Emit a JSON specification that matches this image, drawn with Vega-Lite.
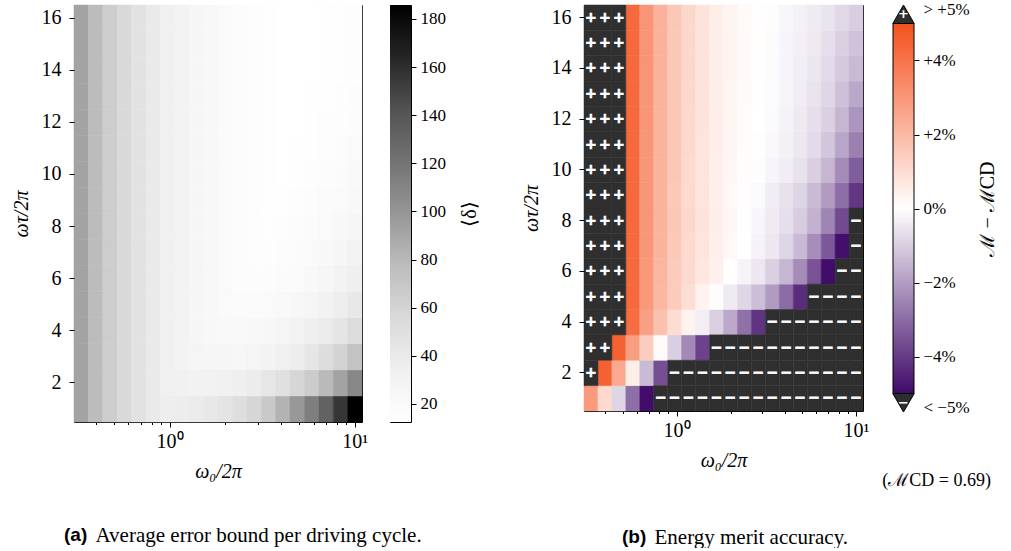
{
"$schema": "https://vega.github.io/schema/vega-lite/v6.json",
"background": "white",
"padding": {"left": 10, "top": 0, "right": 0, "bottom": 0},
"config": {
  "view": {"stroke": "black", "strokeWidth": 1},
  "font": "Liberation Serif",
  "title": {"color": "black", "font": "Liberation Serif", "fontWeight": "normal", "fontSize": 21},
  "axis": {"domain": false, "grid": false, "tickColor": "black", "tickWidth": 1, "tickSize": 5, "labelFont": "Liberation Serif", "labelFontSize": 20, "labelColor": "black", "labelPadding": 6, "titleFont": "Liberation Serif", "titleFontSize": 20, "titleFontWeight": "normal", "titleColor": "black"}
},
"datasets": {
  "cols": [
    {"c":1,"lo":0.3048,"hi":0.3646,"mid":0.3333},{"c":2,"lo":0.3646,"hi":0.4360,"mid":0.3988},{"c":3,"lo":0.4360,"hi":0.5215,"mid":0.4770},{"c":4,"lo":0.5215,"hi":0.6237,"mid":0.5704},{"c":5,"lo":0.6237,"hi":0.7460,"mid":0.6823},
    {"c":6,"lo":0.7460,"hi":0.8923,"mid":0.8160},{"c":7,"lo":0.8923,"hi":1.0671,"mid":0.9757},{"c":8,"lo":1.0671,"hi":1.2763,"mid":1.1670},{"c":9,"lo":1.2763,"hi":1.5266,"mid":1.3957},{"c":10,"lo":1.5266,"hi":1.8258,"mid":1.6693},
    {"c":11,"lo":1.8258,"hi":2.1838,"mid":1.9965},{"c":12,"lo":2.1838,"hi":2.6119,"mid":2.3879},{"c":13,"lo":2.6119,"hi":3.1239,"mid":2.8560},{"c":14,"lo":3.1239,"hi":3.7363,"mid":3.4159},{"c":15,"lo":3.7363,"hi":4.4688,"mid":4.0855},
    {"c":16,"lo":4.4688,"hi":5.3448,"mid":4.8865},{"c":17,"lo":5.3448,"hi":6.3926,"mid":5.8443},{"c":18,"lo":6.3926,"hi":7.6459,"mid":6.9900},{"c":19,"lo":7.6459,"hi":9.1450,"mid":8.3603},{"c":20,"lo":9.1450,"hi":10.937,"mid":10.0}
  ],
  "bar1": [{"lo": 12.5, "hi": 185.8}],
  "bar2": [{"lo": -5, "hi": 5}],
  "tri": [{"t": 5.25, "s": "+"}, {"t": -5.25, "s": "−"}],
  "cells": [
{"c":1,"y":1,"g":92,"m":2.9},{"c":2,"y":1,"g":78,"m":1.1},{"c":3,"y":1,"g":65,"m":-0.85},{"c":4,"y":1,"g":56,"m":-2.95},{"c":5,"y":1,"g":47,"m":-4.95},{"c":6,"y":1,"g":40,"m":-6},{"c":7,"y":1,"g":36,"m":-6},{"c":8,"y":1,"g":37,"m":-6},{"c":9,"y":1,"g":39,"m":-6},{"c":10,"y":1,"g":42,"m":-6},{"c":11,"y":1,"g":45,"m":-6},{"c":12,"y":1,"g":51,"m":-6},{"c":13,"y":1,"g":58,"m":-6},{"c":14,"y":1,"g":68,"m":-6},{"c":15,"y":1,"g":83,"m":-6},{"c":16,"y":1,"g":98,"m":-6},{"c":17,"y":1,"g":114,"m":-6},{"c":18,"y":1,"g":132,"m":-6},{"c":19,"y":1,"g":156,"m":-6},{"c":20,"y":1,"g":185.8,"m":-6},
{"c":1,"y":2,"g":92,"m":6},{"c":2,"y":2,"g":78,"m":4.55},{"c":3,"y":2,"g":65,"m":2.5},{"c":4,"y":2,"g":56,"m":0.5},{"c":5,"y":2,"g":47,"m":-1.4},{"c":6,"y":2,"g":40,"m":-3.6},{"c":7,"y":2,"g":34,"m":-6},{"c":8,"y":2,"g":32.7,"m":-6},{"c":9,"y":2,"g":31,"m":-6},{"c":10,"y":2,"g":31,"m":-6},{"c":11,"y":2,"g":33,"m":-6},{"c":12,"y":2,"g":35,"m":-6},{"c":13,"y":2,"g":38,"m":-6},{"c":14,"y":2,"g":44,"m":-6},{"c":15,"y":2,"g":49,"m":-6},{"c":16,"y":2,"g":58,"m":-6},{"c":17,"y":2,"g":67,"m":-6},{"c":18,"y":2,"g":79,"m":-6},{"c":19,"y":2,"g":92,"m":-6},{"c":20,"y":2,"g":108.6,"m":-6},
{"c":1,"y":3,"g":92,"m":6},{"c":2,"y":3,"g":78,"m":6},{"c":3,"y":3,"g":65,"m":4.55},{"c":4,"y":3,"g":56,"m":2.8},{"c":5,"y":3,"g":47,"m":1.45},{"c":6,"y":3,"g":40,"m":0.12},{"c":7,"y":3,"g":34,"m":-0.97},{"c":8,"y":3,"g":30,"m":-2.4},{"c":9,"y":3,"g":27,"m":-3.85},{"c":10,"y":3,"g":25.5,"m":-6},{"c":11,"y":3,"g":25.5,"m":-6},{"c":12,"y":3,"g":25.5,"m":-6},{"c":13,"y":3,"g":27,"m":-6},{"c":14,"y":3,"g":30,"m":-6},{"c":15,"y":3,"g":34,"m":-6},{"c":16,"y":3,"g":37,"m":-6},{"c":17,"y":3,"g":44,"m":-6},{"c":18,"y":3,"g":52,"m":-6},{"c":19,"y":3,"g":60.5,"m":-6},{"c":20,"y":3,"g":73,"m":-6},
{"c":1,"y":4,"g":92,"m":6},{"c":2,"y":4,"g":78,"m":6},{"c":3,"y":4,"g":65,"m":6},{"c":4,"y":4,"g":56,"m":4.2},{"c":5,"y":4,"g":47,"m":2.75},{"c":6,"y":4,"g":40,"m":1.8},{"c":7,"y":4,"g":34,"m":1},{"c":8,"y":4,"g":30,"m":0.35},{"c":9,"y":4,"g":25.5,"m":-0.35},{"c":10,"y":4,"g":22.6,"m":-0.95},{"c":11,"y":4,"g":21,"m":-1.75},{"c":12,"y":4,"g":21,"m":-2.9},{"c":13,"y":4,"g":22.6,"m":-4.15},{"c":14,"y":4,"g":24,"m":-6},{"c":15,"y":4,"g":27,"m":-6},{"c":16,"y":4,"g":30,"m":-6},{"c":17,"y":4,"g":35,"m":-6},{"c":18,"y":4,"g":39,"m":-6},{"c":19,"y":4,"g":44.6,"m":-6},{"c":20,"y":4,"g":53,"m":-6},
{"c":1,"y":5,"g":92,"m":6},{"c":2,"y":5,"g":78,"m":6},{"c":3,"y":5,"g":65,"m":6},{"c":4,"y":5,"g":56,"m":4.3},{"c":5,"y":5,"g":47,"m":2.95},{"c":6,"y":5,"g":40,"m":2.05},{"c":7,"y":5,"g":34,"m":1.5},{"c":8,"y":5,"g":30,"m":0.95},{"c":9,"y":5,"g":25.5,"m":0.35},{"c":10,"y":5,"g":22.6,"m":-0.05},{"c":11,"y":5,"g":19.7,"m":-0.4},{"c":12,"y":5,"g":18.3,"m":-0.82},{"c":13,"y":5,"g":18.3,"m":-1.32},{"c":14,"y":5,"g":19.7,"m":-2.05},{"c":15,"y":5,"g":21,"m":-3},{"c":16,"y":5,"g":24,"m":-4.3},{"c":17,"y":5,"g":27,"m":-6},{"c":18,"y":5,"g":31,"m":-6},{"c":19,"y":5,"g":36,"m":-6},{"c":20,"y":5,"g":41.7,"m":-6},
{"c":1,"y":6,"g":92,"m":6},{"c":2,"y":6,"g":78,"m":6},{"c":3,"y":6,"g":65,"m":6},{"c":4,"y":6,"g":56,"m":4.3},{"c":5,"y":6,"g":47,"m":2.95},{"c":6,"y":6,"g":40,"m":2.1},{"c":7,"y":6,"g":34,"m":1.5},{"c":8,"y":6,"g":30,"m":1.05},{"c":9,"y":6,"g":25.5,"m":0.7},{"c":10,"y":6,"g":22.6,"m":0.4},{"c":11,"y":6,"g":19.7,"m":0},{"c":12,"y":6,"g":17.5,"m":-0.22},{"c":13,"y":6,"g":16.5,"m":-0.5},{"c":14,"y":6,"g":16.8,"m":-0.95},{"c":15,"y":6,"g":18.3,"m":-1.5},{"c":16,"y":6,"g":19.7,"m":-2.35},{"c":17,"y":6,"g":22.6,"m":-3.5},{"c":18,"y":6,"g":25.5,"m":-4.95},{"c":19,"y":6,"g":29.8,"m":-6},{"c":20,"y":6,"g":35,"m":-6},
{"c":1,"y":7,"g":92,"m":6},{"c":2,"y":7,"g":78,"m":6},{"c":3,"y":7,"g":65,"m":6},{"c":4,"y":7,"g":56,"m":4.3},{"c":5,"y":7,"g":47,"m":3},{"c":6,"y":7,"g":40,"m":2.15},{"c":7,"y":7,"g":34,"m":1.55},{"c":8,"y":7,"g":30,"m":1.1},{"c":9,"y":7,"g":25.5,"m":0.75},{"c":10,"y":7,"g":22.6,"m":0.45},{"c":11,"y":7,"g":19.7,"m":0.2},{"c":12,"y":7,"g":17.5,"m":0},{"c":13,"y":7,"g":16,"m":-0.25},{"c":14,"y":7,"g":15.4,"m":-0.5},{"c":15,"y":7,"g":16.8,"m":-0.85},{"c":16,"y":7,"g":18.3,"m":-1.42},{"c":17,"y":7,"g":19.7,"m":-2.3},{"c":18,"y":7,"g":22.6,"m":-3.4},{"c":19,"y":7,"g":25.5,"m":-4.9},{"c":20,"y":7,"g":29.8,"m":-6},
{"c":1,"y":8,"g":92,"m":6},{"c":2,"y":8,"g":78,"m":6},{"c":3,"y":8,"g":65,"m":6},{"c":4,"y":8,"g":56,"m":4.3},{"c":5,"y":8,"g":47,"m":3},{"c":6,"y":8,"g":40,"m":2.15},{"c":7,"y":8,"g":34,"m":1.6},{"c":8,"y":8,"g":30,"m":1.15},{"c":9,"y":8,"g":25.5,"m":0.8},{"c":10,"y":8,"g":22.6,"m":0.5},{"c":11,"y":8,"g":19.7,"m":0.22},{"c":12,"y":8,"g":17.5,"m":0.02},{"c":13,"y":8,"g":16,"m":-0.18},{"c":14,"y":8,"g":14.5,"m":-0.4},{"c":15,"y":8,"g":15.4,"m":-0.67},{"c":16,"y":8,"g":16.8,"m":-1.02},{"c":17,"y":8,"g":18.3,"m":-1.6},{"c":18,"y":8,"g":19.7,"m":-2.5},{"c":19,"y":8,"g":22.6,"m":-3.7},{"c":20,"y":8,"g":25.5,"m":-6},
{"c":1,"y":9,"g":92,"m":6},{"c":2,"y":9,"g":78,"m":6},{"c":3,"y":9,"g":65,"m":6},{"c":4,"y":9,"g":56,"m":4.3},{"c":5,"y":9,"g":47,"m":3},{"c":6,"y":9,"g":40,"m":2.15},{"c":7,"y":9,"g":34,"m":1.55},{"c":8,"y":9,"g":30,"m":1.1},{"c":9,"y":9,"g":25.5,"m":0.75},{"c":10,"y":9,"g":22.6,"m":0.45},{"c":11,"y":9,"g":19.7,"m":0.2},{"c":12,"y":9,"g":17.5,"m":0.05},{"c":13,"y":9,"g":16,"m":-0.12},{"c":14,"y":9,"g":14.5,"m":-0.37},{"c":15,"y":9,"g":13.9,"m":-0.6},{"c":16,"y":9,"g":15.4,"m":-0.88},{"c":17,"y":9,"g":16.8,"m":-1.39},{"c":18,"y":9,"g":18.3,"m":-2.04},{"c":19,"y":9,"g":19.7,"m":-2.96},{"c":20,"y":9,"g":22.6,"m":-4.1},
{"c":1,"y":10,"g":92,"m":6},{"c":2,"y":10,"g":78,"m":6},{"c":3,"y":10,"g":65,"m":6},{"c":4,"y":10,"g":56,"m":4.3},{"c":5,"y":10,"g":47,"m":3},{"c":6,"y":10,"g":40,"m":2.15},{"c":7,"y":10,"g":34,"m":1.6},{"c":8,"y":10,"g":30,"m":1.1},{"c":9,"y":10,"g":25.5,"m":0.77},{"c":10,"y":10,"g":22.6,"m":0.47},{"c":11,"y":10,"g":19.7,"m":0.23},{"c":12,"y":10,"g":17.5,"m":0.06},{"c":13,"y":10,"g":16,"m":-0.05},{"c":14,"y":10,"g":14.5,"m":-0.2},{"c":15,"y":10,"g":13.2,"m":-0.37},{"c":16,"y":10,"g":14,"m":-0.6},{"c":17,"y":10,"g":15.4,"m":-0.98},{"c":18,"y":10,"g":16.8,"m":-1.49},{"c":19,"y":10,"g":18.3,"m":-2.35},{"c":20,"y":10,"g":20.5,"m":-3.3},
{"c":1,"y":11,"g":92,"m":6},{"c":2,"y":11,"g":78,"m":6},{"c":3,"y":11,"g":65,"m":6},{"c":4,"y":11,"g":56,"m":4.3},{"c":5,"y":11,"g":47,"m":3},{"c":6,"y":11,"g":40,"m":2.17},{"c":7,"y":11,"g":34,"m":1.6},{"c":8,"y":11,"g":30,"m":1.12},{"c":9,"y":11,"g":25.5,"m":0.78},{"c":10,"y":11,"g":22.6,"m":0.48},{"c":11,"y":11,"g":19.7,"m":0.25},{"c":12,"y":11,"g":17.5,"m":0.08},{"c":13,"y":11,"g":16,"m":-0.02},{"c":14,"y":11,"g":14.5,"m":-0.14},{"c":15,"y":11,"g":13,"m":-0.3},{"c":16,"y":11,"g":13.5,"m":-0.48},{"c":17,"y":11,"g":14.5,"m":-0.73},{"c":18,"y":11,"g":15.4,"m":-1.16},{"c":19,"y":11,"g":16.8,"m":-1.84},{"c":20,"y":11,"g":19,"m":-2.6},
{"c":1,"y":12,"g":92,"m":6},{"c":2,"y":12,"g":78,"m":6},{"c":3,"y":12,"g":65,"m":6},{"c":4,"y":12,"g":56,"m":4.3},{"c":5,"y":12,"g":47,"m":3.02},{"c":6,"y":12,"g":40,"m":2.18},{"c":7,"y":12,"g":34,"m":1.6},{"c":8,"y":12,"g":30,"m":1.13},{"c":9,"y":12,"g":25.5,"m":0.79},{"c":10,"y":12,"g":22.6,"m":0.49},{"c":11,"y":12,"g":19.7,"m":0.26},{"c":12,"y":12,"g":17.5,"m":0.1},{"c":13,"y":12,"g":16,"m":0},{"c":14,"y":12,"g":14.5,"m":-0.1},{"c":15,"y":12,"g":13,"m":-0.25},{"c":16,"y":12,"g":13,"m":-0.42},{"c":17,"y":12,"g":13.9,"m":-0.65},{"c":18,"y":12,"g":14.8,"m":-0.96},{"c":19,"y":12,"g":15.8,"m":-1.49},{"c":20,"y":12,"g":17.5,"m":-2.18},
{"c":1,"y":13,"g":92,"m":6},{"c":2,"y":13,"g":78,"m":6},{"c":3,"y":13,"g":65,"m":6},{"c":4,"y":13,"g":56,"m":4.3},{"c":5,"y":13,"g":47,"m":3.03},{"c":6,"y":13,"g":40,"m":2.19},{"c":7,"y":13,"g":34,"m":1.6},{"c":8,"y":13,"g":30,"m":1.14},{"c":9,"y":13,"g":25.5,"m":0.8},{"c":10,"y":13,"g":22.6,"m":0.5},{"c":11,"y":13,"g":19.7,"m":0.27},{"c":12,"y":13,"g":17.5,"m":0.12},{"c":13,"y":13,"g":16,"m":0.02},{"c":14,"y":13,"g":14.5,"m":-0.08},{"c":15,"y":13,"g":13,"m":-0.22},{"c":16,"y":13,"g":12.8,"m":-0.37},{"c":17,"y":13,"g":13.5,"m":-0.57},{"c":18,"y":13,"g":14.2,"m":-0.84},{"c":19,"y":13,"g":15.2,"m":-1.29},{"c":20,"y":13,"g":16.5,"m":-1.78},
{"c":1,"y":14,"g":92,"m":6},{"c":2,"y":14,"g":78,"m":6},{"c":3,"y":14,"g":65,"m":6},{"c":4,"y":14,"g":56,"m":4.3},{"c":5,"y":14,"g":47,"m":3.04},{"c":6,"y":14,"g":40,"m":2.2},{"c":7,"y":14,"g":34,"m":1.6},{"c":8,"y":14,"g":30,"m":1.15},{"c":9,"y":14,"g":25.5,"m":0.8},{"c":10,"y":14,"g":22.6,"m":0.5},{"c":11,"y":14,"g":19.7,"m":0.28},{"c":12,"y":14,"g":17.5,"m":0.13},{"c":13,"y":14,"g":16,"m":0.03},{"c":14,"y":14,"g":14.5,"m":-0.07},{"c":15,"y":14,"g":13,"m":-0.21},{"c":16,"y":14,"g":12.7,"m":-0.34},{"c":17,"y":14,"g":13.2,"m":-0.51},{"c":18,"y":14,"g":13.9,"m":-0.73},{"c":19,"y":14,"g":14.6,"m":-1.1},{"c":20,"y":14,"g":15.8,"m":-1.43},
{"c":1,"y":15,"g":92,"m":6},{"c":2,"y":15,"g":78,"m":6},{"c":3,"y":15,"g":65,"m":6},{"c":4,"y":15,"g":56,"m":4.3},{"c":5,"y":15,"g":47,"m":3.05},{"c":6,"y":15,"g":40,"m":2.2},{"c":7,"y":15,"g":34,"m":1.6},{"c":8,"y":15,"g":30,"m":1.15},{"c":9,"y":15,"g":25.5,"m":0.8},{"c":10,"y":15,"g":22.6,"m":0.5},{"c":11,"y":15,"g":19.7,"m":0.29},{"c":12,"y":15,"g":17.5,"m":0.14},{"c":13,"y":15,"g":16,"m":0.04},{"c":14,"y":15,"g":14.5,"m":-0.06},{"c":15,"y":15,"g":13,"m":-0.2},{"c":16,"y":15,"g":12.6,"m":-0.32},{"c":17,"y":15,"g":13,"m":-0.45},{"c":18,"y":15,"g":13.6,"m":-0.65},{"c":19,"y":15,"g":14.2,"m":-0.96},{"c":20,"y":15,"g":15.2,"m":-1.24},
{"c":1,"y":16,"g":92,"m":6},{"c":2,"y":16,"g":78,"m":6},{"c":3,"y":16,"g":65,"m":6},{"c":4,"y":16,"g":56,"m":4.3},{"c":5,"y":16,"g":47,"m":3.05},{"c":6,"y":16,"g":40,"m":2.2},{"c":7,"y":16,"g":34,"m":1.6},{"c":8,"y":16,"g":30,"m":1.15},{"c":9,"y":16,"g":25.5,"m":0.8},{"c":10,"y":16,"g":22.6,"m":0.5},{"c":11,"y":16,"g":19.7,"m":0.3},{"c":12,"y":16,"g":17.5,"m":0.15},{"c":13,"y":16,"g":16,"m":0.05},{"c":14,"y":16,"g":14.5,"m":-0.05},{"c":15,"y":16,"g":13,"m":-0.18},{"c":16,"y":16,"g":12.6,"m":-0.3},{"c":17,"y":16,"g":12.9,"m":-0.41},{"c":18,"y":16,"g":13.4,"m":-0.55},{"c":19,"y":16,"g":13.9,"m":-0.8},{"c":20,"y":16,"g":14.8,"m":-1.0}
  ]
},
"resolve": {"scale": {"fill": "independent", "stroke": "independent", "shape": "independent"}},
"spacing": 40,
"hconcat": [
  {
    "spacing": 20,
    "title": {"text": "Average error bound per driving cycle.", "orient": "bottom", "anchor": "start", "dx": 85, "offset": -21},
    "hconcat": [
      {
        "width": 288, "height": 417,
        "title": {"text": "(a)", "orient": "bottom", "anchor": "start", "frame": "group", "dx": -10, "offset": 45, "font": "Liberation Sans", "fontWeight": "bold", "fontSize": 19},
        "data": {"name": "cells"},
        "transform": [{"lookup": "c", "from": {"data": {"name": "cols"}, "key": "c", "fields": ["lo", "hi", "mid"]}}],
        "mark": {"type": "rect", "strokeWidth": 0.5},
        "encoding": {
          "x": {"field": "lo", "type": "quantitative", "scale": {"type": "log", "domain": [0.3048, 10.937], "nice": false},
                "axis": {"title": "ω₀/2π", "titleFontStyle": "italic", "values": [0.4,0.5,0.6,0.7,0.8,0.9,1,2,3,4,5,6,7,8,9,10], "labelExpr": "datum.value == 1 ? '10⁰' : datum.value == 10 ? '10¹' : ''", "labelOverlap": false, "labelFlush": false, "tickSize": {"condition": {"test": "datum.value == 1 || datum.value == 10", "value": 5}, "value": 2.5}, "labelPadding": 4, "titlePadding": 10}},
          "x2": {"field": "hi"},
          "y": {"field": "y", "type": "ordinal", "sort": "descending", "scale": {"paddingInner": 0, "paddingOuter": 0},
                "axis": {"title": "ωτ/2π", "titleFontStyle": "italic", "values": [2,4,6,8,10,12,14,16], "labelAngle": 0, "labelPadding": 8, "titlePadding": 10}},
          "fill": {"field": "g", "type": "quantitative", "scale": {"domain": [12.5, 34.1625, 55.825, 77.4875, 99.15, 120.8125, 142.475, 164.1375, 185.8], "range": ["#ffffff","#f0f0f0","#d9d9d9","#bdbdbd","#969696","#737373","#525252","#252525","#000000"], "interpolate": "rgb"}, "legend": null},
          "stroke": {"field": "g", "type": "quantitative", "scale": {"domain": [12.5, 34.1625, 55.825, 77.4875, 99.15, 120.8125, 142.475, 164.1375, 185.8], "range": ["#ffffff","#f0f0f0","#d9d9d9","#bdbdbd","#969696","#737373","#525252","#252525","#000000"], "interpolate": "rgb"}, "legend": null}
        }
      },
      {
        "width": 21, "height": 417,
        "data": {"name": "bar1"},
        "mark": {"type": "rect", "fill": {"gradient": "linear", "x1": 0, "y1": 1, "x2": 0, "y2": 0, "stops": [{"offset": 0, "color": "#ffffff"}, {"offset": 0.125, "color": "#f0f0f0"}, {"offset": 0.25, "color": "#d9d9d9"}, {"offset": 0.375, "color": "#bdbdbd"}, {"offset": 0.5, "color": "#969696"}, {"offset": 0.625, "color": "#737373"}, {"offset": 0.75, "color": "#525252"}, {"offset": 0.875, "color": "#252525"}, {"offset": 1, "color": "#000000"}]}},
        "encoding": {
          "y": {"field": "lo", "type": "quantitative", "scale": {"domain": [12.5, 185.8], "nice": false, "zero": false},
                "axis": {"orient": "right", "values": [20,40,60,80,100,120,140,160,180], "labelFontSize": 17, "labelPadding": 4, "title": "⟨δ⟩", "titleAngle": 270, "titleBaseline": "top", "titlePadding": 14}},
          "y2": {"field": "hi"}
        }
      }
    ]
  },
  {
    "spacing": 12,
    "title": {"text": "Energy merit accuracy.", "orient": "bottom", "anchor": "start", "dx": 134, "offset": -21},
    "hconcat": [
      {
        "width": 279, "height": 406,
        "title": {"text": "(b)", "orient": "bottom", "anchor": "start", "frame": "group", "dx": 38, "offset": 58, "font": "Liberation Sans", "fontWeight": "bold", "fontSize": 19},
        "data": {"name": "cells"},
        "transform": [{"lookup": "c", "from": {"data": {"name": "cols"}, "key": "c", "fields": ["lo", "hi", "mid"]}}],
        "encoding": {
          "x": {"field": "lo", "type": "quantitative", "scale": {"type": "log", "domain": [0.3048, 10.937], "nice": false},
                "axis": {"title": "ω₀/2π", "titleFontStyle": "italic", "values": [0.4,0.5,0.6,0.7,0.8,0.9,1,2,3,4,5,6,7,8,9,10], "labelExpr": "datum.value == 1 ? '10⁰' : datum.value == 10 ? '10¹' : ''", "labelOverlap": false, "labelFlush": false, "tickSize": {"condition": {"test": "datum.value == 1 || datum.value == 10", "value": 5}, "value": 2.5}, "labelPadding": 4, "titlePadding": 10}},
          "y": {"field": "y", "type": "ordinal", "sort": "descending", "scale": {"paddingInner": 0, "paddingOuter": 0},
                "axis": {"title": "ωτ/2π", "titleFontStyle": "italic", "values": [2,4,6,8,10,12,14,16], "labelAngle": 0, "labelPadding": 8, "titlePadding": 10}}
        },
        "layer": [
          {
            "transform": [{"filter": "abs(datum.m) <= 5"}],
            "mark": {"type": "rect", "strokeWidth": 0.5},
            "encoding": {
              "x2": {"field": "hi"},
              "fill": {"field": "m", "type": "quantitative", "scale": {"domain": [-5, 0, 5], "range": ["#3f0a68", "#ffffff", "#f4511e"], "interpolate": "rgb"}, "legend": null},
              "stroke": {"field": "m", "type": "quantitative", "scale": {"domain": [-5, 0, 5], "range": ["#3f0a68", "#ffffff", "#f4511e"], "interpolate": "rgb"}, "legend": null}
            }
          },
          {
            "transform": [{"filter": "abs(datum.m) > 5"}],
            "mark": {"type": "rect", "fill": "#2f2f2f", "stroke": "#2f2f2f", "strokeWidth": 0.5},
            "encoding": {
              "x2": {"field": "hi"}
            }
          },
          {
            "transform": [{"filter": "abs(datum.m) > 5"}],
            "mark": {"type": "text", "color": "white", "stroke": "white", "strokeWidth": 0.7, "font": "DejaVu Sans", "fontWeight": "bold", "fontSize": 14, "baseline": "middle", "align": "center"},
            "encoding": {
              "x": {"field": "mid", "type": "quantitative"},
              "text": {"condition": {"test": "datum.m > 0", "value": "+"}, "value": "−"}
            }
          }
        ]
      },
      {
        "width": 21, "height": 407,
        "view": {"stroke": null},
        "title": {"text": "(ℳCD = 0.69)", "orient": "bottom", "anchor": "end", "frame": "group", "dx": 77, "offset": 57, "fontSize": 18},
        "layer": [
          {
            "data": {"name": "bar2"},
            "mark": {"type": "rect", "stroke": "black", "strokeWidth": 1, "fill": {"gradient": "linear", "x1": 0, "y1": 1, "x2": 0, "y2": 0, "stops": [{"offset": 0, "color": "#3f0a68"}, {"offset": 0.5, "color": "#ffffff"}, {"offset": 1, "color": "#f4511e"}]}},
            "encoding": {
              "y": {"field": "lo", "type": "quantitative", "scale": {"domain": [-5.5, 5.5], "nice": false, "zero": false},
                    "axis": {"orient": "right", "values": [-5.37,-4,-2,0,2,4,5.37], "labelExpr": "datum.value > 5 ? '> +5%' : datum.value < -5 ? '< −5%' : datum.value > 0 ? '+' + datum.value + '%' : datum.value < 0 ? '−' + (-datum.value) + '%' : '0%'", "tickOpacity": {"condition": {"test": "abs(datum.value) > 5", "value": 0}, "value": 1}, "labelFontSize": 17, "labelPadding": 4, "title": "ℳ − ℳCD", "titleAngle": 270, "titleBaseline": "top", "titlePadding": 8}},
              "y2": {"field": "hi"}
            }
          },
          {
            "data": {"name": "tri"},
            "mark": {"type": "point", "filled": true, "color": "#2f2f2f", "stroke": "black", "strokeWidth": 1, "size": 458, "opacity": 1},
            "encoding": {
              "y": {"field": "t", "type": "quantitative"},
              "shape": {"field": "s", "type": "nominal", "scale": {"domain": ["+", "−"], "range": ["M-1,0.865L1,0.865L0,-0.865Z", "M-1,-0.865L1,-0.865L0,0.865Z"]}, "legend": null}
            }
          },
          {
            "data": {"name": "tri"},
            "mark": {"type": "text", "color": "white", "font": "DejaVu Sans", "fontWeight": "bold", "fontSize": 13, "baseline": "middle", "align": "center"},
            "encoding": {
              "y": {"field": "t", "type": "quantitative"},
              "text": {"field": "s"}
            }
          }
        ]
      }
    ]
  }
]
}
